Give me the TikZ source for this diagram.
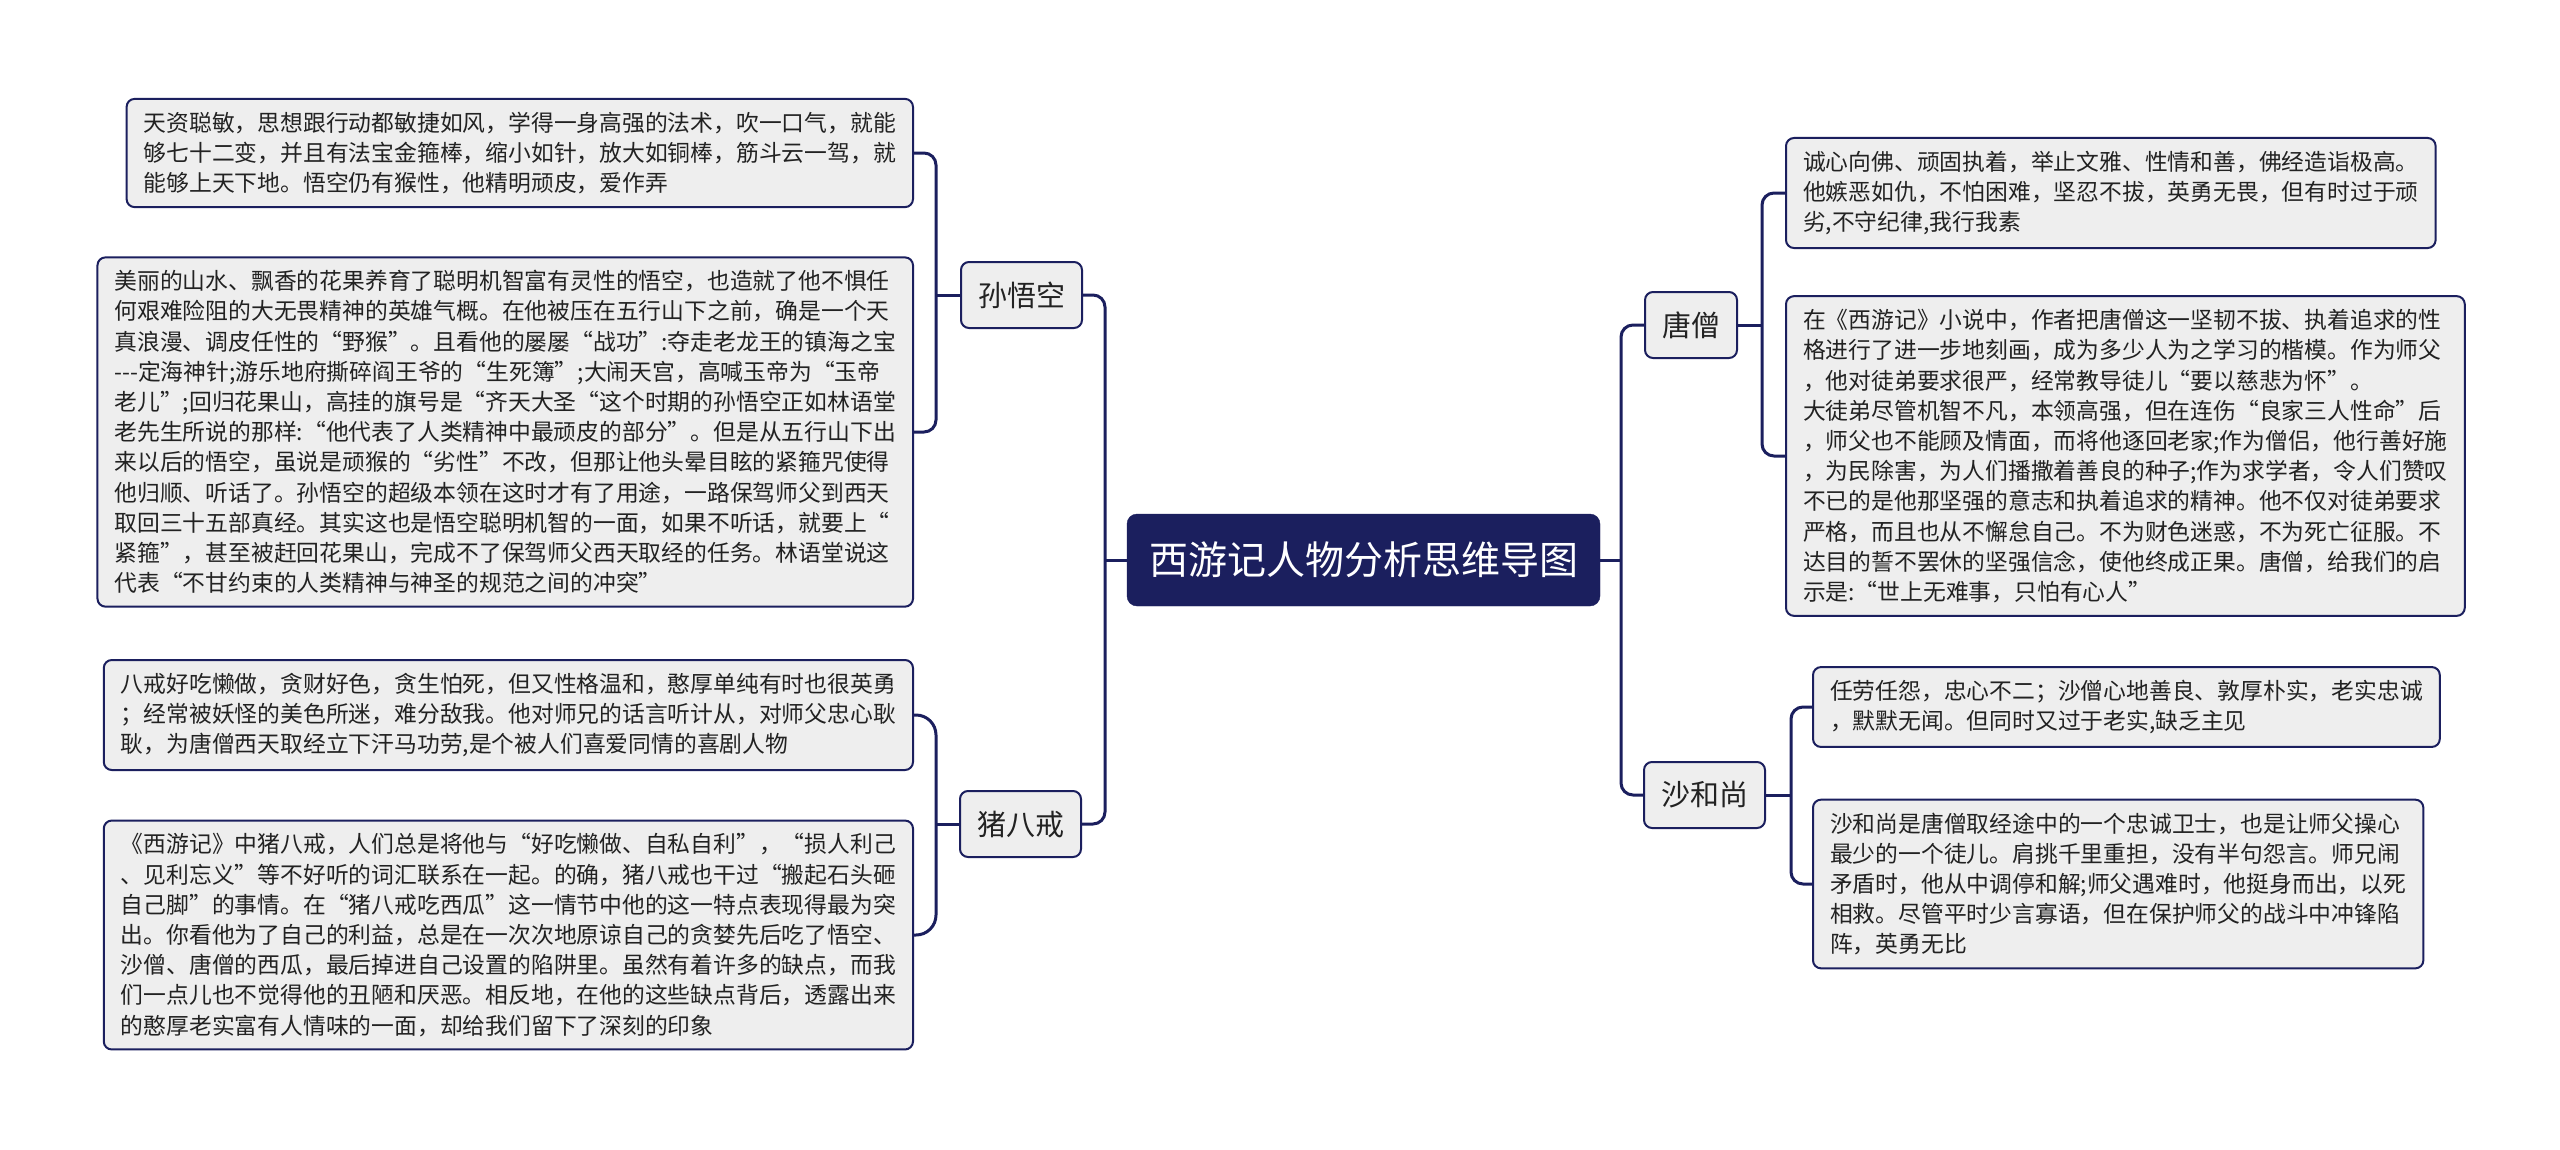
\documentclass[tikz,border=0pt]{standalone}
\usepackage{fontspec}
\setmainfont[Ligatures=TeXOff]{Noto Sans CJK SC}
\definecolor{navy}{HTML}{1B1F5E}
\definecolor{boxfill}{HTML}{EEEEEE}
\definecolor{txt}{HTML}{222222}
\tikzset{
 leaf/.style={draw=navy, line width=2pt, fill=boxfill, rounded corners=8pt, align=left, inner xsep=17pt, inner ysep=13pt, text=txt, font=\fontsize{22.8pt}{30.2pt}\selectfont},
 branch/.style={draw=navy, line width=2pt, fill=boxfill, rounded corners=8pt, inner xsep=17pt, minimum height=66pt, text=txt, font=\fontsize{29pt}{34pt}\selectfont},
 root/.style={fill=navy, draw=navy, rounded corners=10pt, inner xsep=22pt, minimum height=92pt, text=white, font=\fontsize{39pt}{44pt}\selectfont},
 conn/.style={draw=navy, line width=3pt, rounded corners=12pt},
}
\begin{document}
\begin{tikzpicture}[x=1pt,y=-1pt]
\useasboundingbox[fill=white] (0,0) rectangle (2560,1149);

\node[root] (root) at (1363.5,560) {西游记人物分析思维导图};

\node[branch, anchor=east] (swk) at (1083,295) {孙悟空};
\node[branch, anchor=east] (zbj) at (1082,824) {猪八戒};
\node[branch, anchor=west] (ts) at (1644,325) {唐僧};
\node[branch, anchor=west] (sh) at (1643,795) {沙和尚};

\node[leaf, anchor=east] (L1) at (914,153) {天资聪敏，思想跟行动都敏捷如风，学得一身高强的法术，吹一口气，就能\\够七十二变，并且有法宝金箍棒，缩小如针，放大如铜棒，筋斗云一驾，就\\能够上天下地。悟空仍有猴性，他精明顽皮，爱作弄};

\node[leaf, anchor=east] (L2) at (914,432) {美丽的山水、飘香的花果养育了聪明机智富有灵性的悟空，也造就了他不惧任\\何艰难险阻的大无畏精神的英雄气概。在他被压在五行山下之前，确是一个天\\真浪漫、调皮任性的“野猴”。且看他的屡屡“战功”:夺走老龙王的镇海之宝\\-{}-{}-定海神针;游乐地府撕碎阎王爷的“生死簿”;大闹天宫，高喊玉帝为“玉帝\\老儿”;回归花果山，高挂的旗号是“齐天大圣“这个时期的孙悟空正如林语堂\\老先生所说的那样:“他代表了人类精神中最顽皮的部分”。但是从五行山下出\\来以后的悟空，虽说是顽猴的“劣性”不改，但那让他头晕目眩的紧箍咒使得\\他归顺、听话了。孙悟空的超级本领在这时才有了用途，一路保驾师父到西天\\取回三十五部真经。其实这也是悟空聪明机智的一面，如果不听话，就要上“\\紧箍”，甚至被赶回花果山，完成不了保驾师父西天取经的任务。林语堂说这\\代表“不甘约束的人类精神与神圣的规范之间的冲突”};

\node[leaf, anchor=east] (L3) at (914,715) {八戒好吃懒做，贪财好色，贪生怕死，但又性格温和，憨厚单纯有时也很英勇\\；经常被妖怪的美色所迷，难分敌我。他对师兄的话言听计从，对师父忠心耿\\耿，为唐僧西天取经立下汗马功劳,是个被人们喜爱同情的喜剧人物};

\node[leaf, anchor=east] (L4) at (914,935) {《西游记》中猪八戒，人们总是将他与“好吃懒做、自私自利”，“损人利己\\、见利忘义”等不好听的词汇联系在一起。的确，猪八戒也干过“搬起石头砸\\自己脚”的事情。在“猪八戒吃西瓜”这一情节中他的这一特点表现得最为突\\出。你看他为了自己的利益，总是在一次次地原谅自己的贪婪先后吃了悟空、\\沙僧、唐僧的西瓜，最后掉进自己设置的陷阱里。虽然有着许多的缺点，而我\\们一点儿也不觉得他的丑陋和厌恶。相反地，在他的这些缺点背后，透露出来\\的憨厚老实富有人情味的一面，却给我们留下了深刻的印象};

\node[leaf, anchor=west] (R1) at (1785,193) {诚心向佛、顽固执着，举止文雅、性情和善，佛经造诣极高。\\他嫉恶如仇，不怕困难，坚忍不拔，英勇无畏，但有时过于顽\\劣,不守纪律,我行我素};

\node[leaf, anchor=west] (R2) at (1785,456) {在《西游记》小说中，作者把唐僧这一坚韧不拔、执着追求的性\\格进行了进一步地刻画，成为多少人为之学习的楷模。作为师父\\，他对徒弟要求很严，经常教导徒儿“要以慈悲为怀”。\\大徒弟尽管机智不凡，本领高强，但在连伤“良家三人性命”后\\，师父也不能顾及情面，而将他逐回老家;作为僧侣，他行善好施\\，为民除害，为人们播撒着善良的种子;作为求学者，令人们赞叹\\不已的是他那坚强的意志和执着追求的精神。他不仅对徒弟要求\\严格，而且也从不懈怠自己。不为财色迷惑，不为死亡征服。不\\达目的誓不罢休的坚强信念，使他终成正果。唐僧，给我们的启\\示是:“世上无难事，只怕有心人”};

\node[leaf, anchor=west] (R3) at (1812,707) {任劳任怨，忠心不二；沙僧心地善良、敦厚朴实，老实忠诚\\，默默无闻。但同时又过于老实,缺乏主见};

\node[leaf, anchor=west] (R4) at (1812,884) {沙和尚是唐僧取经途中的一个忠诚卫士，也是让师父操心\\最少的一个徒儿。肩挑千里重担，没有半句怨言。师兄闹\\矛盾时，他从中调停和解;师父遇难时，他挺身而出，以死\\相救。尽管平时少言寡语，但在保护师父的战斗中冲锋陷\\阵，英勇无比};

\coordinate (jl) at (1105,560);
\coordinate (jr) at (1621,560);
\coordinate (jswk) at (936,295);
\coordinate (jzbj) at (936,824);
\coordinate (jts) at (1762,325);
\coordinate (jsh) at (1791,795);

\draw[conn] (root.west) -- (jl);
\draw[conn] (swk.east) -| (jl) |- (zbj.east);
\draw[conn] (root.east) -- (jr);
\draw[conn] (ts.west) -| (jr) |- (sh.west);

\draw[conn] (swk.west) -- (jswk);
\draw[conn] (L1.east) -| (jswk) |- (L2.east);

\draw[conn] (zbj.west) -- (jzbj);
\draw[conn, rounded corners=20pt] (L3.east) -| (jzbj) |- (L4.east);

\draw[conn] (ts.east) -- (jts);
\draw[conn] (R1.west) -| (jts) |- (R2.west);

\draw[conn] (sh.east) -- (jsh);
\draw[conn] (R3.west) -| (jsh) |- (R4.west);
\end{tikzpicture}
\end{document}
